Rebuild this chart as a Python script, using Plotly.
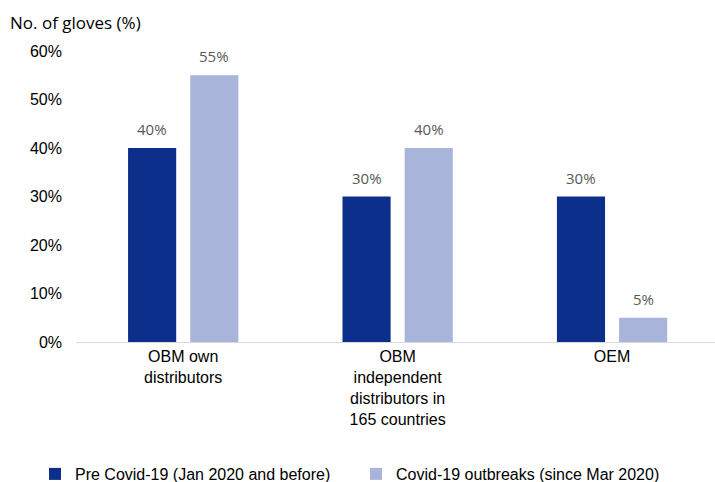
import plotly.graph_objects as go

categories = ["OBM own<br>distributors",
              "OBM<br>independent<br>distributors in<br>165 countries",
              "OEM"]
pre_covid = [40, 30, 30]
covid = [55, 40, 5]
series_names = ["Pre Covid-19 (Jan 2020 and before)",
                "Covid-19 outbreaks (since Mar 2020)"]
y_ticks = [0, 10, 20, 30, 40, 50, 60]
y_tick_labels = [f"{v}%" for v in y_ticks]

DARK = "#0B2F8A"
LIGHT = "#A9B4DA"
label_font = dict(family="Open Sans, sans-serif", size=15, color="#595959")

W, H = 715, 482
ML, MR, MT, MB = 76, 0, 51, 140
X_RANGE = [-0.5, 2.48]
BARGAP, GROUPGAP = 0.42, 0.226
PLOT_W, PLOT_H = W - ML - MR, H - MT - MB

fig = go.Figure()
for name, vals, col, leg in [(series_names[0], pre_covid, DARK, "legend"),
                             (series_names[1], covid, LIGHT, "legend2")]:
    fig.add_trace(go.Bar(
        x=categories, y=vals, name=name, legend=leg,
        marker=dict(color=col, line=dict(width=0)),
    ))

# value labels above each bar, offset to the bar's slot within the group
unit_px = PLOT_W / (X_RANGE[1] - X_RANGE[0])
slot_px = unit_px * (1 - BARGAP) / 2
annotations = []
for k, vals in enumerate([pre_covid, covid]):
    shift = (k - 0.5) * slot_px
    for cat, v in zip(categories, vals):
        annotations.append(dict(
            x=cat, y=v, xref="x", yref="y", text=f"{v}%",
            showarrow=False, xshift=shift, yshift=19,
            xanchor="center", yanchor="middle", font=label_font))

annotations.append(dict(text="No. of gloves (%)", xref="paper", yref="paper",
                        x=-(ML - 8) / PLOT_W, y=(MT - 23) / PLOT_H + 1,
                        xanchor="left", yanchor="middle", showarrow=False,
                        font=dict(family="Open Sans, sans-serif", size=17, color="#000000")))

legend_y = -(474 - (H - MB)) / PLOT_H
legend_common = dict(orientation="h", xref="container", yref="paper",
                     y=legend_y, xanchor="left", yanchor="middle",
                     font=dict(size=16, color="#000000"),
                     itemwidth=30, bgcolor="rgba(0,0,0,0)")

fig.update_layout(
    width=W, height=H,
    margin=dict(l=ML, r=MR, t=MT, b=MB, autoexpand=False),
    paper_bgcolor="white", plot_bgcolor="white",
    barmode="group", bargap=BARGAP, bargroupgap=GROUPGAP,
    font=dict(family="Liberation Sans, Arial, sans-serif", size=16, color="#000000"),
    showlegend=True,
    legend=dict(x=35 / W, **legend_common),
    legend2=dict(x=356 / W, **legend_common),
    annotations=annotations,
)
fig.update_xaxes(range=X_RANGE, showline=True, linecolor="#D9D9D9", linewidth=1,
                 ticks="", tickfont=dict(size=16), showgrid=False)
fig.update_yaxes(range=[0, 60], tickvals=y_ticks, ticktext=y_tick_labels,
                 showgrid=False, zeroline=False, showline=False, ticks="",
                 ticklabelstandoff=13, tickfont=dict(size=16))

fig.write_html("out.html")
